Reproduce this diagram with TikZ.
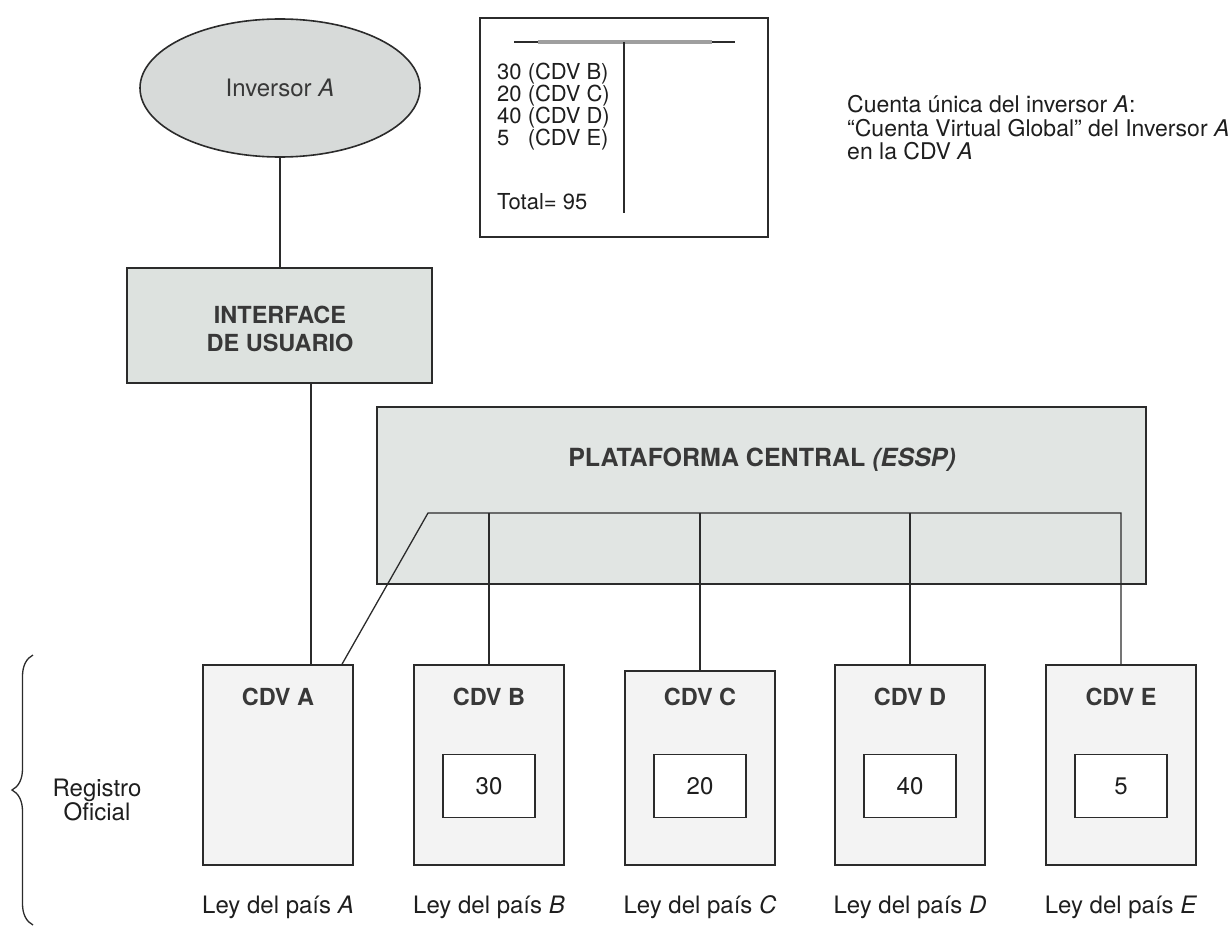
\documentclass[tikz,border=0pt]{standalone}
\usepackage{fontspec}
\setmainfont{TeX Gyre Heros}
\usetikzlibrary{shapes.geometric,decorations.pathreplacing,calc}
\definecolor{linec}{HTML}{2B2B2B}
\definecolor{txtc}{HTML}{1E1E1E}
\definecolor{boldc}{HTML}{383838}
\definecolor{ellfill}{HTML}{D7DAD9}
\definecolor{ifacefill}{HTML}{DDE2DF}
\definecolor{platfill}{HTML}{E1E5E3}
\definecolor{cdvfill}{HTML}{F3F3F3}
\begin{document}
\begin{tikzpicture}[x=1pt,y=-1pt,
  reg/.style={font=\fontsize{24}{24}\selectfont, text=txtc, inner sep=0pt},
  acct/.style={font=\fontsize{22}{22}\selectfont, text=txtc, inner sep=0pt, anchor=west},
  bold/.style={font=\fontsize{23.5}{28}\selectfont\bfseries, text=boldc, inner sep=0pt},
  frame/.style={draw=linec, line width=1.6pt, inner sep=0pt},
  cdvbox/.style={frame, fill=cdvfill, minimum width=150, minimum height=200},
  numbox/.style={frame, fill=white, line width=1.3pt, minimum width=92, minimum height=63, reg},
  wire/.style={draw=linec, line width=1.3pt}
]
\useasboundingbox (0,0) rectangle (1230,928);

% investor and user interface
\node[ellipse, frame, fill=ellfill, minimum width=280, minimum height=138, reg, text=boldc] (inv) at (280,88) {Inversor \textit{A}};
\node[frame, fill=ifacefill, minimum width=305, minimum height=115] (iface) at (279.5,325.5) {};
\node[bold, align=center] (ifacetxt) at (280,329) {INTERFACE\\DE USUARIO};

% T-account of the global virtual account
\node[frame, fill=white, minimum width=288, minimum height=219] (tbox) at (624,127.5) {};
\coordinate (tl) at (514,42);
\coordinate (tr) at (735,42);
\coordinate (tm) at (624,42);
\coordinate (tb) at (624,213);
\draw[linec, line width=1.3pt] (tl) -- (tr);
\draw[gray!75, line width=3.5pt] (538,42) -- (712,42);
\draw[linec, line width=1.4pt] (tm) -- (tb);
\node[acct] (r1) at (497,74) {30 (CDV B)};
\node[acct] (r2) at (497,96) {20 (CDV C)};
\node[acct] (r3) at (497,118) {40 (CDV D)};
\node[acct] (r4) at (497,140) {5\phantom{0} (CDV E)};
\node[acct] (rt) at (497,202) {Total= 95};

\node[reg, anchor=west, align=left, font=\fontsize{23}{23.5}\selectfont] (note) at (847,128)
  {Cuenta única del inversor \textit{A}:\\“Cuenta Virtual Global” del Inversor \textit{A}\\en la CDV \textit{A}};

% central platform
\node[frame, fill=platfill, minimum width=769, minimum height=177] (plat) at (761.5,495.5) {};
\node[bold, font=\fontsize{25}{28}\selectfont\bfseries] (plattxt) at (762,460) {PLATAFORMA CENTRAL \textit{(ESSP)}};

% depositories
\node[cdvbox] (cdvA) at (278,765) {};
\node[cdvbox] (cdvB) at (489,765) {};
\node[cdvbox, minimum height=194] (cdvC) at (700,768) {};
\node[cdvbox] (cdvD) at (910,765) {};
\node[cdvbox] (cdvE) at (1121,765) {};

\foreach \n/\x in {A/278,B/489,C/700,D/910,E/1121}{
  \node[bold] (t\n) at (\x,697) {CDV \n};
  \node[reg] (l\n) at (\x,907) {Ley del país \textit{\n}};
}
\node[numbox] (nB) at (489,786) {30};
\node[numbox] (nC) at (700,786) {20};
\node[numbox] (nD) at (910,786) {40};
\node[numbox] (nE) at (1121,786) {5};

% connectors
\draw[wire] (inv.south) -- (inv.south |- iface.north);
\draw[wire] ($(cdvA.north)+(33,0)$) coordinate (aup) -- (aup |- iface.south);
\coordinate (busl) at (428,513);
\coordinate (busr) at (cdvE.north |- busl);
\draw[wire] ($(cdvA.north)+(64,0)$) -- (busl) -- (busr) -- (cdvE.north);
\foreach \n in {B,C,D}{
  \draw[wire] (cdv\n.north) -- (cdv\n.north |- busl);
}

% official register brace
\coordinate (brtop) at (33,655);
\coordinate (brbot) at (33,925);
\draw[linec, line width=1.3pt, decorate, decoration={brace, amplitude=21pt}] (brbot) -- (brtop);
\node[reg, align=center, font=\fontsize{24}{24}\selectfont] (regof) at (97,800) {Registro\\Oficial};
\end{tikzpicture}
\end{document}
